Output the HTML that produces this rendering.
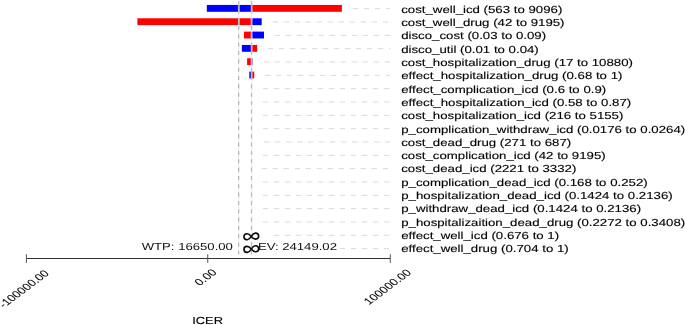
<!DOCTYPE html>
<html><head><meta charset="utf-8"><style>
html,body{margin:0;padding:0;background:#fff;}
body{width:685px;height:325px;overflow:hidden;}
svg{display:block;}
text{font-family:"Liberation Sans",sans-serif;text-rendering:geometricPrecision;}
#w{will-change:transform;width:685px;height:325px;}
</style></head><body>
<div id="w"><svg width="685" height="325" viewBox="0 0 685 325">
<rect x="0" y="0" width="685" height="325" fill="#fff"/>

<rect x="206.80" y="4.95" width="44.75" height="6.85" fill="#0000ff"/>
<rect x="251.55" y="4.95" width="90.35" height="6.85" fill="#ff0000"/>
<line x1="352.75" y1="8.68" x2="390.3" y2="8.68" stroke="#dadada" stroke-width="1" stroke-dasharray="5.5 5.5"/>
<rect x="137.40" y="18.28" width="114.15" height="6.85" fill="#ff0000"/>
<rect x="251.55" y="18.28" width="10.15" height="6.85" fill="#0000ff"/>
<line x1="272.50" y1="22.01" x2="390.3" y2="22.01" stroke="#dadada" stroke-width="1" stroke-dasharray="5.5 5.5"/>
<rect x="244.00" y="31.61" width="7.55" height="6.85" fill="#ff0000"/>
<rect x="251.55" y="31.61" width="12.45" height="6.85" fill="#0000ff"/>
<line x1="274.70" y1="35.33" x2="390.3" y2="35.33" stroke="#dadada" stroke-width="1" stroke-dasharray="5.5 5.5"/>
<rect x="241.90" y="44.94" width="9.65" height="6.85" fill="#0000ff"/>
<rect x="251.55" y="44.94" width="5.65" height="6.85" fill="#ff0000"/>
<line x1="267.90" y1="48.66" x2="390.3" y2="48.66" stroke="#dadada" stroke-width="1" stroke-dasharray="5.5 5.5"/>
<rect x="247.10" y="58.27" width="4.45" height="6.85" fill="#ff0000"/>
<rect x="251.55" y="58.27" width="1.05" height="6.85" fill="#0000ff"/>
<line x1="263.70" y1="61.99" x2="390.3" y2="61.99" stroke="#dadada" stroke-width="1" stroke-dasharray="5.5 5.5"/>
<rect x="249.30" y="71.60" width="2.25" height="6.85" fill="#0000ff"/>
<rect x="251.55" y="71.60" width="2.65" height="6.85" fill="#ff0000"/>
<line x1="264.90" y1="75.33" x2="390.3" y2="75.33" stroke="#dadada" stroke-width="1" stroke-dasharray="5.5 5.5"/>
<line x1="262.80" y1="88.66" x2="390.3" y2="88.66" stroke="#dadada" stroke-width="1" stroke-dasharray="5.5 5.5"/>
<line x1="262.80" y1="101.98" x2="390.3" y2="101.98" stroke="#dadada" stroke-width="1" stroke-dasharray="5.5 5.5"/>
<line x1="262.80" y1="115.31" x2="390.3" y2="115.31" stroke="#dadada" stroke-width="1" stroke-dasharray="5.5 5.5"/>
<line x1="262.80" y1="128.65" x2="390.3" y2="128.65" stroke="#dadada" stroke-width="1" stroke-dasharray="5.5 5.5"/>
<line x1="264.00" y1="141.98" x2="390.3" y2="141.98" stroke="#dadada" stroke-width="1" stroke-dasharray="5.5 5.5"/>
<line x1="262.80" y1="155.31" x2="390.3" y2="155.31" stroke="#dadada" stroke-width="1" stroke-dasharray="5.5 5.5"/>
<line x1="261.50" y1="168.64" x2="390.3" y2="168.64" stroke="#dadada" stroke-width="1" stroke-dasharray="5.5 5.5"/>
<line x1="262.80" y1="181.97" x2="390.3" y2="181.97" stroke="#dadada" stroke-width="1" stroke-dasharray="5.5 5.5"/>
<line x1="262.80" y1="195.30" x2="390.3" y2="195.30" stroke="#dadada" stroke-width="1" stroke-dasharray="5.5 5.5"/>
<line x1="262.80" y1="208.62" x2="390.3" y2="208.62" stroke="#dadada" stroke-width="1" stroke-dasharray="5.5 5.5"/>
<line x1="262.80" y1="221.96" x2="390.3" y2="221.96" stroke="#dadada" stroke-width="1" stroke-dasharray="5.5 5.5"/>
<line x1="273.80" y1="235.29" x2="390.3" y2="235.29" stroke="#dadada" stroke-width="1" stroke-dasharray="5.5 5.5"/>
<line x1="339.80" y1="248.62" x2="390.3" y2="248.62" stroke="#dadada" stroke-width="1" stroke-dasharray="5.5 5.5"/>
<line x1="238.65" y1="0.8" x2="238.65" y2="254.5" stroke="#f0f0f0" stroke-width="1.4"/>
<line x1="238.65" y1="1.0" x2="238.65" y2="254.5" stroke="#bababa" stroke-width="1.25" stroke-dasharray="4.1 4.23"/>
<line x1="251.55" y1="0.8" x2="251.55" y2="254.5" stroke="#f0f0f0" stroke-width="1.4"/>
<line x1="251.55" y1="1.0" x2="251.55" y2="254.5" stroke="#bababa" stroke-width="1.25" stroke-dasharray="4.1 4.23"/>
<rect x="238.05" y="4.95" width="1.2" height="6.85" fill="#fff"/>
<rect x="238.25" y="4.95" width="0.8" height="6.85" fill="#a8a8a8"/>
<rect x="250.95" y="4.95" width="1.2" height="6.85" fill="#fff"/>
<rect x="251.15" y="4.95" width="0.8" height="6.85" fill="#a8a8a8"/>
<rect x="238.05" y="18.28" width="1.2" height="6.85" fill="#fff"/>
<rect x="238.25" y="18.28" width="0.8" height="6.85" fill="#a8a8a8"/>
<rect x="250.95" y="18.28" width="1.2" height="6.85" fill="#fff"/>
<rect x="251.15" y="18.28" width="0.8" height="6.85" fill="#a8a8a8"/>
<rect x="250.95" y="31.61" width="1.2" height="6.85" fill="#fff"/>
<rect x="251.15" y="31.61" width="0.8" height="6.85" fill="#a8a8a8"/>
<rect x="250.95" y="44.94" width="1.2" height="6.85" fill="#fff"/>
<rect x="251.15" y="44.94" width="0.8" height="6.85" fill="#a8a8a8"/>
<rect x="250.95" y="58.27" width="1.2" height="6.85" fill="#fff"/>
<rect x="251.15" y="58.27" width="0.8" height="6.85" fill="#a8a8a8"/>
<rect x="250.95" y="71.60" width="1.2" height="6.85" fill="#fff"/>
<rect x="251.15" y="71.60" width="0.8" height="6.85" fill="#a8a8a8"/>
<line x1="26.4" y1="258.5" x2="390.3" y2="258.5" stroke="#333" stroke-width="1.2"/>
<line x1="26.4" y1="254.2" x2="26.4" y2="262.9" stroke="#555" stroke-width="1"/>
<line x1="207.75" y1="254.2" x2="207.75" y2="262.9" stroke="#555" stroke-width="1"/>
<line x1="390.3" y1="254.2" x2="390.3" y2="262.9" stroke="#555" stroke-width="1"/>
<text transform="translate(401.2,12.75) scale(1.299,1)" font-size="10.2" fill="#000" stroke="#000" stroke-width="0.12">cost_well_icd (563 to 9096)</text>
<text transform="translate(401.2,26.06) scale(1.299,1)" font-size="10.2" fill="#000" stroke="#000" stroke-width="0.12">cost_well_drug (42 to 9195)</text>
<text transform="translate(401.2,39.37) scale(1.299,1)" font-size="10.2" fill="#000" stroke="#000" stroke-width="0.12">disco_cost (0.03 to 0.09)</text>
<text transform="translate(401.2,52.68) scale(1.299,1)" font-size="10.2" fill="#000" stroke="#000" stroke-width="0.12">disco_util (0.01 to 0.04)</text>
<text transform="translate(401.2,65.99) scale(1.299,1)" font-size="10.2" fill="#000" stroke="#000" stroke-width="0.12">cost_hospitalization_drug (17 to 10880)</text>
<text transform="translate(401.2,79.30) scale(1.299,1)" font-size="10.2" fill="#000" stroke="#000" stroke-width="0.12">effect_hospitalization_drug (0.68 to 1)</text>
<text transform="translate(401.2,92.61) scale(1.299,1)" font-size="10.2" fill="#000" stroke="#000" stroke-width="0.12">effect_complication_icd (0.6 to 0.9)</text>
<text transform="translate(401.2,105.92) scale(1.299,1)" font-size="10.2" fill="#000" stroke="#000" stroke-width="0.12">effect_hospitalization_icd (0.58 to 0.87)</text>
<text transform="translate(401.2,119.23) scale(1.299,1)" font-size="10.2" fill="#000" stroke="#000" stroke-width="0.12">cost_hospitalization_icd (216 to 5155)</text>
<text transform="translate(401.2,132.54) scale(1.299,1)" font-size="10.2" fill="#000" stroke="#000" stroke-width="0.12">p_complication_withdraw_icd (0.0176 to 0.0264)</text>
<text transform="translate(401.2,145.85) scale(1.299,1)" font-size="10.2" fill="#000" stroke="#000" stroke-width="0.12">cost_dead_drug (271 to 687)</text>
<text transform="translate(401.2,159.16) scale(1.299,1)" font-size="10.2" fill="#000" stroke="#000" stroke-width="0.12">cost_complication_icd (42 to 9195)</text>
<text transform="translate(401.2,172.47) scale(1.299,1)" font-size="10.2" fill="#000" stroke="#000" stroke-width="0.12">cost_dead_icd (2221 to 3332)</text>
<text transform="translate(401.2,185.78) scale(1.299,1)" font-size="10.2" fill="#000" stroke="#000" stroke-width="0.12">p_complication_dead_icd (0.168 to 0.252)</text>
<text transform="translate(401.2,199.09) scale(1.299,1)" font-size="10.2" fill="#000" stroke="#000" stroke-width="0.12">p_hospitalization_dead_icd (0.1424 to 0.2136)</text>
<text transform="translate(401.2,212.40) scale(1.299,1)" font-size="10.2" fill="#000" stroke="#000" stroke-width="0.12">p_withdraw_dead_icd (0.1424 to 0.2136)</text>
<text transform="translate(401.2,225.71) scale(1.299,1)" font-size="10.2" fill="#000" stroke="#000" stroke-width="0.12">p_hospitalizaition_dead_drug (0.2272 to 0.3408)</text>
<text transform="translate(401.2,239.02) scale(1.299,1)" font-size="10.2" fill="#000" stroke="#000" stroke-width="0.12">effect_well_icd (0.676 to 1)</text>
<text transform="translate(401.2,252.33) scale(1.299,1)" font-size="10.2" fill="#000" stroke="#000" stroke-width="0.12">effect_well_drug (0.704 to 1)</text>
<text transform="translate(232.9,250.2) scale(1.288,1)" font-size="10.2" fill="#111" text-anchor="end">WTP: 16650.00</text>
<text transform="translate(257.9,250.2) scale(1.288,1)" font-size="10.2" fill="#111">EV: 24149.02</text>
<path transform="translate(251.3,236.4) rotate(-4)" d="M0,0 C0.9,-1.3 2.3,-3.0 4.2,-3.0 C6.05,-3.0 7.35,-1.68 7.35,0 C7.35,1.68 6.05,3.0 4.2,3.0 C2.3,3.0 0.9,1.3 0,0 C-0.9,-1.3 -2.3,-3.0 -4.2,-3.0 C-6.05,-3.0 -7.35,-1.68 -7.35,0 C-7.35,1.68 -6.05,3.0 -4.2,3.0 C-2.3,3.0 -0.9,1.3 0,0 Z" fill="none" stroke="#0a0a0a" stroke-width="1.6"/>
<path transform="translate(251.3,249.1) rotate(-4)" d="M0,0 C0.9,-1.3 2.3,-3.0 4.2,-3.0 C6.05,-3.0 7.35,-1.68 7.35,0 C7.35,1.68 6.05,3.0 4.2,3.0 C2.3,3.0 0.9,1.3 0,0 C-0.9,-1.3 -2.3,-3.0 -4.2,-3.0 C-6.05,-3.0 -7.35,-1.68 -7.35,0 C-7.35,1.68 -6.05,3.0 -4.2,3.0 C-2.3,3.0 -0.9,1.3 0,0 Z" fill="none" stroke="#0a0a0a" stroke-width="1.6"/>
<text transform="translate(24.5,289.3) scale(1.34,1) rotate(-45)" font-size="9.6" fill="#000" text-anchor="middle" dominant-baseline="central" stroke="#000" stroke-width="0.06">-100000.00</text>
<text transform="translate(206.3,277.9) scale(1.34,1) rotate(-45)" font-size="9.6" fill="#000" text-anchor="middle" dominant-baseline="central" stroke="#000" stroke-width="0.06">0.00</text>
<text transform="translate(388.2,287.4) scale(1.34,1) rotate(-45)" font-size="9.6" fill="#000" text-anchor="middle" dominant-baseline="central" stroke="#000" stroke-width="0.06">100000.00</text>
<text transform="translate(207.6,324.1) scale(1.265,1)" font-size="10.2" fill="#000" stroke="#000" stroke-width="0.12" text-anchor="middle">ICER</text>
</svg></div>
</body></html>
